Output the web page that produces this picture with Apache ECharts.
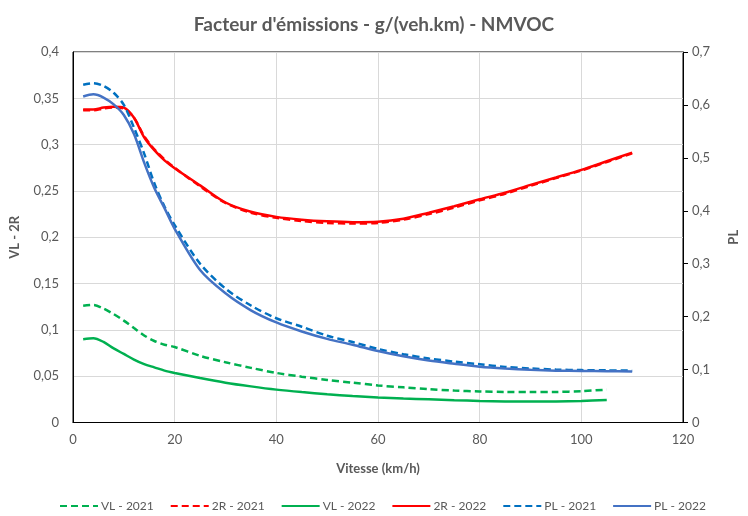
<!DOCTYPE html>
<html>
<head>
<meta charset="utf-8">
<script src="https://cdn.jsdelivr.net/npm/echarts@6/dist/echarts.min.js"></script>
<style>html,body{margin:0;padding:0;background:#fff;}#c{width:748px;height:516px;}</style>
</head>
<body>
<div id="c"></div>
<script>
const speeds = [2,4,6,8,10,12,14,16,18,20,25,30,35,40,45,50,55,60,65,70,75,80,85,90,95,100,105,110];
const vl2021 = [0.126,0.127,0.123,0.117,0.110,0.102,0.094,0.088,0.084,0.0815,0.072,0.065,0.059,0.0535,0.0495,0.046,0.043,0.040,0.038,0.036,0.0345,0.0335,0.033,0.0328,0.033,0.0338,0.0355,null];
const r2021 = [0.337,0.337,0.339,0.340,0.339,0.329,0.309,0.295,0.284,0.275,0.255,0.237,0.2265,0.221,0.2175,0.2155,0.2148,0.2155,0.219,0.225,0.232,0.2398,0.247,0.2555,0.2638,0.272,0.2812,0.2905];
const vl2022 = [0.090,0.091,0.087,0.080,0.074,0.068,0.063,0.0595,0.056,0.0535,0.048,0.043,0.039,0.0355,0.0328,0.0305,0.0285,0.027,0.0258,0.025,0.024,0.0233,0.0228,0.0226,0.0228,0.0233,0.0243,null];
const r2022 = [0.338,0.338,0.340,0.341,0.340,0.329,0.308,0.294,0.283,0.2745,0.256,0.2375,0.2275,0.222,0.219,0.2172,0.2163,0.2168,0.220,0.2265,0.2335,0.241,0.248,0.2565,0.2645,0.2727,0.282,0.2914];
const pl2021 = [0.638,0.641,0.636,0.623,0.600,0.557,0.508,0.452,0.408,0.373,0.300,0.253,0.221,0.197,0.181,0.164,0.152,0.139,0.129,0.121,0.115,0.110,0.105,0.102,0.100,0.099,0.0985,0.098];
const pl2022 = [0.616,0.620,0.614,0.601,0.581,0.545,0.491,0.443,0.405,0.366,0.288,0.244,0.212,0.189,0.172,0.158,0.147,0.135,0.125,0.117,0.111,0.1055,0.102,0.0995,0.098,0.0975,0.097,0.0965];

const FONT = 'Lato';
const GREY = '#595959';
function pairs(vals){ return speeds.map((s,i)=>[s, vals[i]]); }
function fmt(v){ return String(Math.round(v*100)/100).replace('.', ','); }

function mk(name, vals, color, dashed, yIdx){
  return {
    name: name, type: 'line', yAxisIndex: yIdx, data: pairs(vals),
    smooth: 0.3, showSymbol: false, symbol: 'none',
    lineStyle: { color: color, width: 2.5, type: dashed ? [7,4] : 'solid' },
    itemStyle: { color: color }
  };
}

const chart = echarts.init(document.getElementById('c'), null, {renderer:'canvas'});
chart.setOption({
  animation: false,
  backgroundColor: '#fff',
  title: {
    text: "Facteur d'émissions - g/(veh.km) - NMVOC",
    left: 'center', top: 10,
    textStyle: { fontFamily: FONT, fontSize: 19, fontWeight: 'bold', color: GREY }
  },
  grid: { left: 72, right: 56.5, top: 52, bottom: 93.5, show: true, borderColor: '#000', borderWidth: 1 },
  legend: {
    left: 54, top: 495, itemWidth: 38, itemHeight: 4, itemGap: 16,
    itemStyle: { opacity: 0 },
    textStyle: { fontFamily: FONT, fontSize: 12, color: GREY, padding: [0,0,0,-2] },
    data: ['VL - 2021','2R - 2021','VL - 2022','2R - 2022','PL - 2021','PL - 2022']
  },
  xAxis: {
    type: 'value', min: 0, max: 120, interval: 20,
    name: 'Vitesse (km/h)', nameLocation: 'middle', nameGap: 40,
    nameTextStyle: { fontFamily: FONT, fontSize: 13, fontWeight: 'bold', color: GREY },
    axisLine: { show: true, lineStyle: { color: '#000', width: 1 } },
    axisTick: { show: false },
    axisLabel: { fontFamily: FONT, fontSize: 13, color: GREY, margin: 11 },
    splitLine: { show: true, lineStyle: { color: '#d9d9d9', width: 1 } }
  },
  yAxis: [
    {
      type: 'value', min: 0, max: 0.4, interval: 0.05, position: 'left',
      name: 'VL - 2R', nameLocation: 'middle', nameGap: 52, nameRotate: 90,
      nameTextStyle: { fontFamily: FONT, fontSize: 13, fontWeight: 'bold', color: GREY },
      axisLine: { show: true, lineStyle: { color: '#000', width: 1 } },
      axisTick: { show: false },
      axisLabel: { fontFamily: FONT, fontSize: 13, color: GREY, margin: 14, formatter: fmt },
      splitLine: { show: true, lineStyle: { color: '#d9d9d9', width: 1 } }
    },
    {
      type: 'value', min: 0, max: 0.7, interval: 0.1, position: 'right',
      name: 'PL', nameLocation: 'middle', nameGap: 44, nameRotate: 90,
      nameTextStyle: { fontFamily: FONT, fontSize: 13, fontWeight: 'bold', color: GREY },
      axisLine: { show: true, lineStyle: { color: '#000', width: 1 } },
      axisTick: { show: true, length: 5, inside: false, lineStyle: { color: '#000' } },
      axisLabel: { fontFamily: FONT, fontSize: 13, color: GREY, margin: 9, formatter: fmt },
      splitLine: { show: false }
    }
  ],
  series: [
    mk('VL - 2021', vl2021, '#00B050', true, 0),
    mk('2R - 2021', r2021, '#FF0000', true, 0),
    mk('VL - 2022', vl2022, '#00B050', false, 0),
    mk('2R - 2022', r2022, '#FF0000', false, 0),
    mk('PL - 2021', pl2021, '#0070C0', true, 1),
    mk('PL - 2022', pl2022, '#4472C4', false, 1)
  ]
});
</script>
</body>
</html>
